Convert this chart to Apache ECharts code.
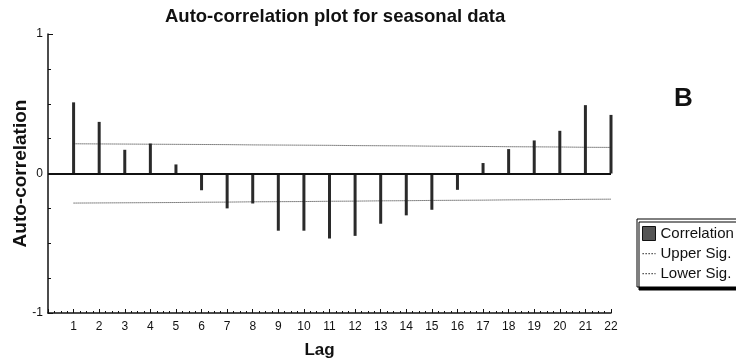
<!DOCTYPE html>
<html>
<head>
<meta charset="utf-8">
<script src="https://cdn.jsdelivr.net/npm/echarts@6/dist/echarts.min.js"></script>
<style>
html,body{margin:0;padding:0;background:#fff;}
#chart{width:736px;height:361px;}
</style>
</head>
<body>
<div id="chart"></div>
<script>
var lags = [1,2,3,4,5,6,7,8,9,10,11,12,13,14,15,16,17,18,19,20,21,22];
var correlation = [0.51,0.37,0.17,0.215,0.065,-0.12,-0.25,-0.215,-0.41,-0.41,-0.466,-0.447,-0.36,-0.30,-0.26,-0.117,0.075,0.175,0.237,0.306,0.49,0.42];
var upperSig = [0.213,0.212,0.211,0.210,0.209,0.208,0.207,0.205,0.204,0.203,0.202,0.200,0.199,0.198,0.196,0.195,0.194,0.192,0.191,0.190,0.188,0.187];
var lowerSig = [-0.212,-0.211,-0.210,-0.209,-0.208,-0.206,-0.205,-0.203,-0.202,-0.201,-0.199,-0.198,-0.196,-0.195,-0.193,-0.192,-0.191,-0.189,-0.188,-0.187,-0.185,-0.184];
var yTickLabels = {'-1':'-1','0':'0','1':'1'};

var FONT = 'Liberation Sans, Arial, sans-serif';
function pairs(vals){ return lags.map(function(l,i){ return [l, vals[i]]; }); }
// dotted-line legend icon (tiny corner specks keep the icon at full box scale)
var DOT_ICON = 'path://M0,0h0.01v0.01h-0.01zM13,14h0.01v0.01h-0.01z' +
  'M0,6.5h1.3v1.3h-1.3zM3,6.5h1.3v1.3h-1.3zM6,6.5h1.3v1.3h-1.3zM9,6.5h1.3v1.3h-1.3zM12,6.5h1v1.3h-1z';

var chart = echarts.init(document.getElementById('chart'), null, {renderer:'canvas'});
chart.setOption({
  animation:false,
  backgroundColor:'#fff',
  title:[
    {text:'Auto-correlation plot for seasonal data', left:165, top:7, padding:0,
     textStyle:{fontFamily:FONT, fontSize:18.5, fontWeight:'bold', color:'#111'}},
    {text:'B', left:674, top:86, padding:0,
     textStyle:{fontFamily:FONT, fontSize:26, fontWeight:'bold', color:'#111'}}
  ],
  legend:{
    orient:'vertical', left:637, top:219,
    padding:[7,20,6,5], itemWidth:13, itemHeight:14, itemGap:5,
    backgroundColor:'#fff', borderColor:'#000', borderWidth:1,
    shadowColor:'#000', shadowBlur:0, shadowOffsetX:2, shadowOffsetY:3,
    textStyle:{fontFamily:FONT, fontSize:15, color:'#111'},
    data:[
      {name:'Correlation', icon:'rect', itemStyle:{color:'#555', borderColor:'#111', borderWidth:1}},
      {name:'Upper Sig.', icon:DOT_ICON, itemStyle:{color:'#333', borderWidth:0}},
      {name:'Lower Sig.', icon:DOT_ICON, itemStyle:{color:'#333', borderWidth:0}}
    ]
  },
  grid:{left:48, right:125, top:34, bottom:48, outerBoundsMode:'none', containLabel:false},
  xAxis:{
    type:'value', min:0, max:22, interval:1,
    name:'Lag', nameLocation:'middle', nameGap:29,
    nameTextStyle:{fontFamily:FONT, fontSize:17, fontWeight:'bold', color:'#111', padding:[0,20,0,0]},
    axisLine:{onZero:false, lineStyle:{color:'#111', width:1.5}},
    axisTick:{inside:true, length:4, lineStyle:{color:'#111'}},
    minorTick:{show:true, splitNumber:4, length:2, lineStyle:{color:'#111'}},
    splitLine:{show:false},
    axisLabel:{fontFamily:FONT, fontSize:12, color:'#111', margin:8,
      formatter:function(v){ return lags.indexOf(v) >= 0 ? String(v) : ''; }}
  },
  yAxis:{
    type:'value', min:-1, max:1, interval:1,
    name:'Auto-correlation', nameLocation:'middle', nameGap:18, nameRotate:90,
    nameMoveOverlap:false,
    nameTextStyle:{fontFamily:FONT, fontSize:19, fontWeight:'bold', color:'#111'},
    axisLine:{show:true, lineStyle:{color:'#111', width:1.5}},
    axisTick:{show:true, inside:true, length:5, lineStyle:{color:'#111'}},
    minorTick:{show:true, splitNumber:4, length:3, lineStyle:{color:'#111'}},
    splitLine:{show:false},
    axisLabel:{fontFamily:FONT, fontSize:12, color:'#111', margin:5,
      formatter:function(v){ return yTickLabels[String(v)] || ''; }}
  },
  series:[
    {name:'Correlation', type:'bar', barWidth:3, data:pairs(correlation),
     itemStyle:{color:'#2a2a2a'},
     markLine:{silent:true, symbol:'none', label:{show:false},
       lineStyle:{type:'solid', color:'#111', width:2},
       data:[{yAxis:0}]}},
    {name:'Upper Sig.', type:'line', symbol:'none', data:pairs(upperSig),
     lineStyle:{type:'dotted', color:'#222', width:1}, itemStyle:{color:'#222'}},
    {name:'Lower Sig.', type:'line', symbol:'none', data:pairs(lowerSig),
     lineStyle:{type:'dotted', color:'#222', width:1}, itemStyle:{color:'#222'}}
  ]
});
</script>
</body>
</html>
